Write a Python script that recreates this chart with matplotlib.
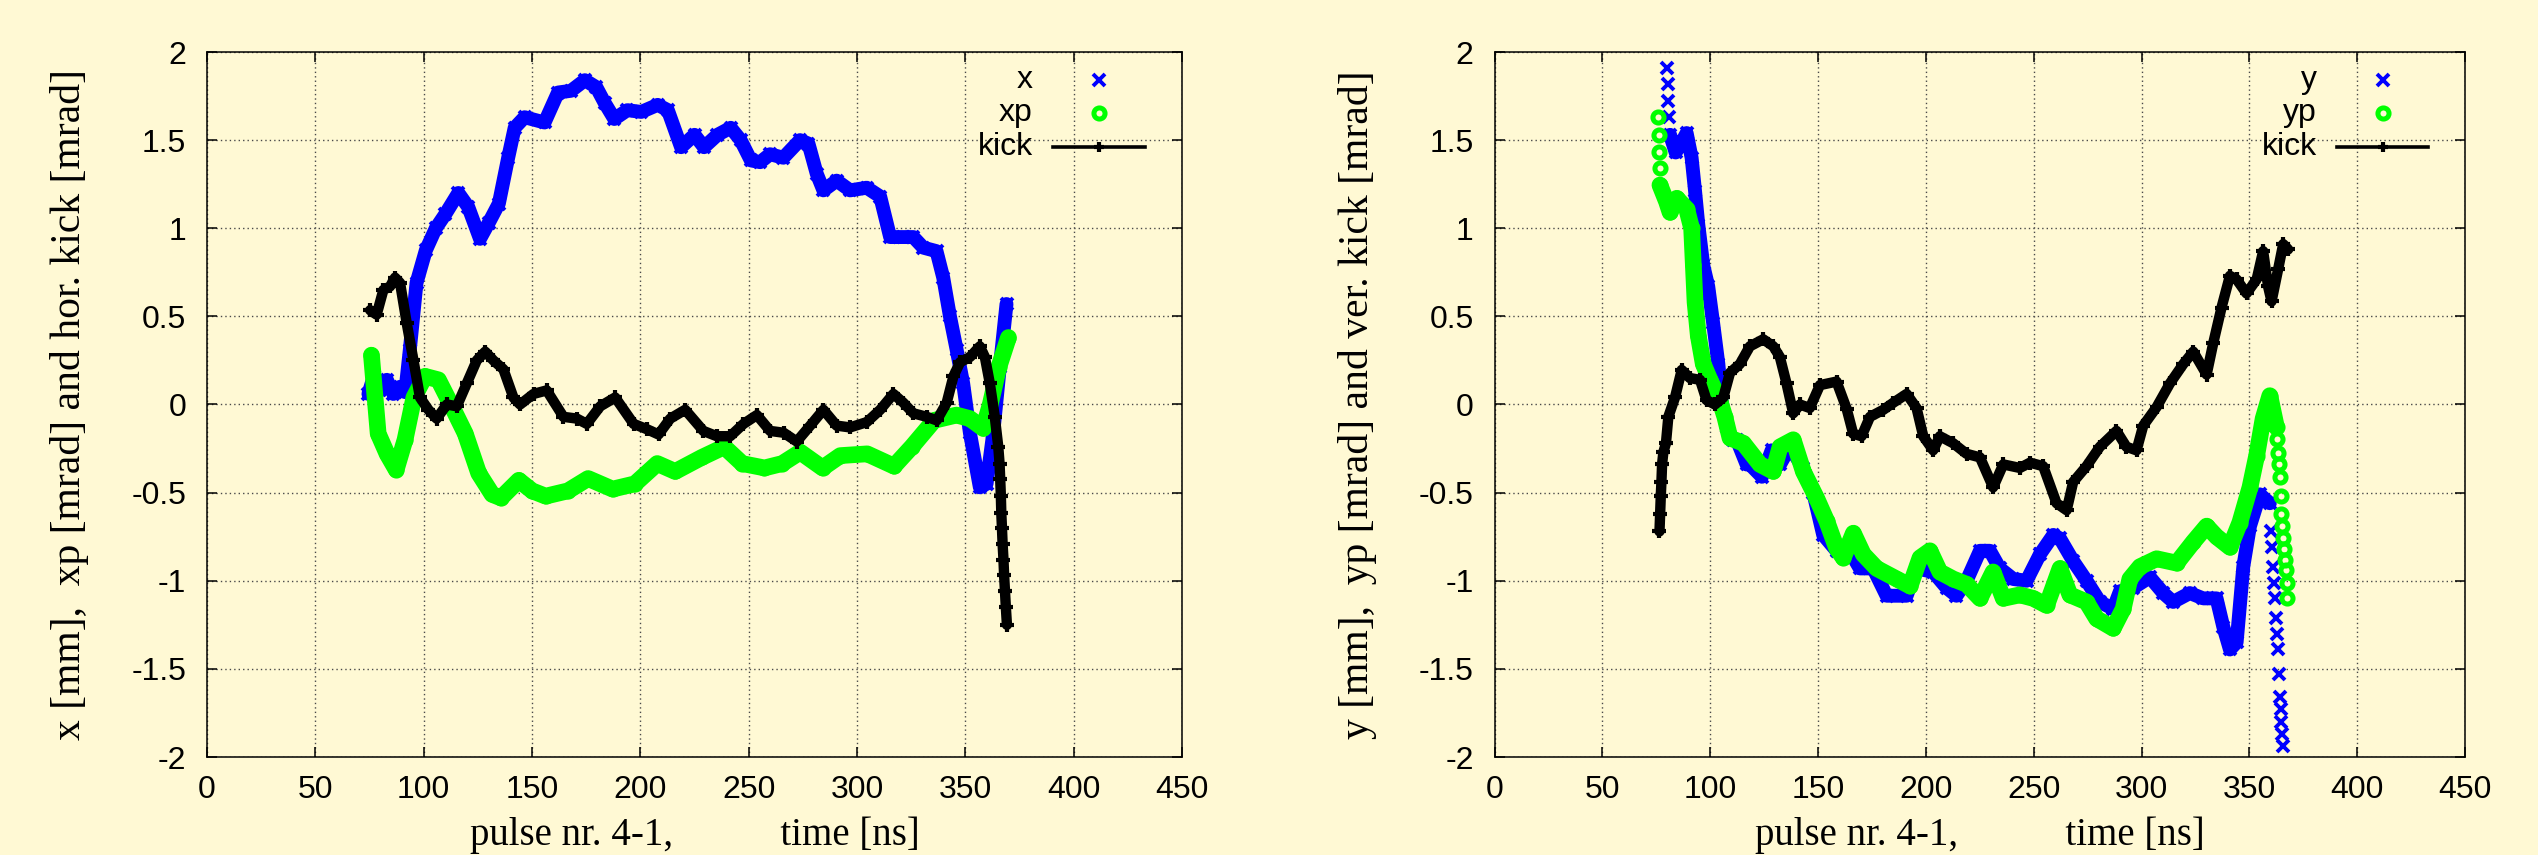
import matplotlib
matplotlib.use('Agg')
import matplotlib.pyplot as plt

# ---------------- data ----------------
# left panel: horizontal plane
x_t = [74.5, 77, 80, 83, 86, 89, 91.5, 93.6, 96.7, 101, 105.6, 110, 116, 120.6, 126, 130, 134.7,
       139, 142, 146.6, 155.8, 162, 168, 174.4, 179.7, 183.6, 188, 194, 200.4, 208, 212.7, 218.8,
       225, 229.4, 235.6, 241.7, 246.3, 251, 255.3, 259.9, 266, 273.7, 277.6, 281.4, 284.5, 290.6,
       296.8, 304.5, 310.7, 315.3, 321.4, 326, 330.6, 336.7, 339.8, 342.9, 346, 349, 352.1, 356.7,
       359.8, 362.9, 365.9, 369]
x_v = [0.06, 0.16, 0.08, 0.14, 0.06, 0.10, 0.07, 0.31, 0.69, 0.875, 1.0, 1.08, 1.2, 1.12, 0.94, 1.03,
       1.14, 1.40, 1.57, 1.63, 1.60, 1.77, 1.78, 1.84, 1.80, 1.71, 1.62, 1.67, 1.66, 1.70, 1.67, 1.46,
       1.53, 1.46, 1.53, 1.57, 1.50, 1.385, 1.375, 1.42, 1.40, 1.50, 1.48, 1.31, 1.215, 1.27, 1.215,
       1.23, 1.18, 0.95, 0.95, 0.95, 0.89, 0.87, 0.72, 0.50, 0.31, 0.12, -0.16, -0.47, -0.45, -0.16,
       0.21, 0.57]

xp_t = [75.9, 79.0, 83.1, 87.3, 91.4, 95.5, 100.6, 106.8, 113.0, 119.2, 125.4, 131.6, 135.7, 143.9,
        150.1, 156.3, 166.6, 175.9, 187.2, 197.5, 207.8, 216.1, 228.4, 238.7, 247.0, 257.3, 265.5,
        273.8, 284.1, 292.3, 304.7, 317.1, 325.3, 335.6, 345.9, 352.1, 358.3, 361.5, 365.4, 369.9]
xp_v = [0.28, -0.165, -0.28, -0.37, -0.20, 0.04, 0.16, 0.14, -0.01, -0.165, -0.39, -0.51, -0.53,
        -0.43, -0.49, -0.52, -0.49, -0.42, -0.48, -0.45, -0.335, -0.38, -0.30, -0.24, -0.335, -0.36,
        -0.335, -0.27, -0.36, -0.29, -0.28, -0.35, -0.24, -0.09, -0.06, -0.08, -0.136, 0.0, 0.21, 0.38]

hkick_t = [75.3, 78.3, 81.4, 84.5, 86.8, 89.1, 92.2, 95.3, 98.3, 102.2, 106.0, 110.7, 115.3, 119.9,
           124.5, 128.4, 132.2, 136.8, 141.4, 144.5, 150.7, 156.8, 164.5, 170.7, 175.3, 181.5, 188.4,
           196.9, 203.0, 208.4, 213.8, 220.7, 229.1, 235.3, 241.5, 247.6, 253.8, 259.9, 266.1, 272.2,
           278.4, 284.5, 290.6, 296.8, 304.5, 310.7, 316.8, 321.4, 326.0, 332.2, 336.8, 341.4, 344.5,
           347.6, 352.2, 356.7, 359.0, 361.3, 363.6, 365.2, 365.8, 366.1, 366.4, 366.6, 366.9, 367.2,
           367.6, 367.9, 368.3, 368.7, 369.2]
hkick_v = [0.535, 0.51, 0.65, 0.67, 0.72, 0.69, 0.46, 0.25, 0.04, -0.03, -0.08, 0.0, -0.01, 0.12,
           0.25, 0.30, 0.25, 0.20, 0.04, 0.0, 0.06, 0.08, -0.07, -0.08, -0.11, -0.01, 0.04, -0.11,
           -0.14, -0.17, -0.08, -0.03, -0.15, -0.18, -0.18, -0.11, -0.06, -0.15, -0.16, -0.21, -0.12,
           -0.03, -0.12, -0.13, -0.10, -0.03, 0.06, 0.01, -0.05, -0.07, -0.09, 0.01, 0.16, 0.24, 0.27,
           0.33, 0.27, 0.12, -0.07, -0.24, -0.335, -0.425, -0.52, -0.615, -0.70, -0.79, -0.88, -0.97,
           -1.06, -1.15, -1.25]

# right panel: vertical plane
y_head_t = [80.2, 80.4, 80.6, 80.8]
y_head_v = [1.91, 1.82, 1.72, 1.63]
y_t = [81.4, 84.0, 86.0, 89.1, 91.4, 93.0, 94.5, 96.8, 99.1, 101.4, 103.8, 105.3, 107.6, 110.7, 112.3,
       116.9, 118.4, 124.0, 128.5, 132.4, 137.0, 143.1, 147.8, 152.4, 158.6, 163.2, 169.4, 175.6,
       181.8, 191.1, 195.7, 203.4, 209.6, 214.2, 218.9, 225.1, 229.7, 234.3, 240.5, 246.7, 252.9,
       259.1, 262.2, 268.4, 274.5, 280.7, 286.9, 290.0, 296.2, 303.9, 310.1, 314.7, 322.4, 328.6,
       334.8, 337.9, 341.0, 344.1, 347.2, 350.3, 354.9, 359.5]
y_v = [1.53, 1.43, 1.47, 1.54, 1.40, 1.21, 1.02, 0.79, 0.67, 0.46, 0.23, 0.02, -0.13, -0.20, -0.20,
       -0.34, -0.34, -0.41, -0.26, -0.34, -0.24, -0.36, -0.50, -0.74, -0.83, -0.80, -0.93, -0.93,
       -1.085, -1.085, -0.93, -0.95, -1.04, -1.085, -1.0, -0.83, -0.83, -0.93, -0.99, -1.0, -0.85,
       -0.74, -0.76, -0.89, -1.0, -1.12, -1.16, -1.06, -1.04, -0.98, -1.07, -1.12, -1.07, -1.1, -1.1,
       -1.26, -1.39, -1.35, -0.92, -0.69, -0.51, -0.56]
y_tail_t = [359.9, 360.4, 360.9, 361.4, 361.9, 362.4, 362.9, 363.4, 363.8, 364.2, 364.5, 364.8,
            365.1, 365.4]
y_tail_v = [-0.72, -0.81, -0.92, -1.01, -1.10, -1.21, -1.30, -1.39, -1.53, -1.66, -1.73, -1.80,
            -1.87, -1.94]

yp_head_t = [76.0, 76.2, 76.4, 76.6]
yp_head_v = [1.63, 1.53, 1.43, 1.34]
yp_t = [76.7, 79.8, 81.4, 84.5, 89.1, 91.4, 92.2, 93.0, 94.5, 96.8, 99.9, 104.5, 106.8, 109.2, 115.4,
        123.1, 129.3, 132.4, 138.5, 143.2, 149.3, 154.0, 158.6, 161.7, 166.4, 171.0, 177.2, 186.5,
        192.7, 197.3, 201.9, 206.5, 212.7, 218.9, 225.1, 231.2, 235.9, 243.6, 249.8, 256.0, 262.2,
        266.8, 274.5, 279.2, 286.9, 291.5, 294.6, 299.3, 307.0, 316.3, 324.0, 330.2, 334.8, 341.0,
        345.6, 350.3, 353.4, 356.4, 359.5, 362.6]
yp_v = [1.245, 1.15, 1.09, 1.17, 1.11, 1.0, 0.79, 0.58, 0.39, 0.23, 0.14, 0.02, -0.07, -0.19, -0.22,
        -0.34, -0.38, -0.24, -0.20, -0.38, -0.53, -0.66, -0.815, -0.87, -0.73, -0.85, -0.93, -0.99,
        -1.03, -0.87, -0.83, -0.95, -0.99, -1.02, -1.10, -0.95, -1.10, -1.08, -1.10, -1.14, -0.93,
        -1.08, -1.12, -1.215, -1.27, -1.16, -0.99, -0.92, -0.875, -0.90, -0.78, -0.69, -0.75, -0.81,
        -0.67, -0.47, -0.29, -0.08, 0.05, -0.13]
yp_tail_t = [362.9, 363.3, 363.7, 364.1, 364.5, 364.9, 365.3, 365.7, 366.1, 366.5, 366.9, 367.3, 367.6]
yp_tail_v = [-0.196, -0.275, -0.34, -0.41, -0.52, -0.62, -0.69, -0.76, -0.82, -0.88, -0.94, -1.01, -1.10]

vkick_t = [76.5, 76.8, 77.1, 77.4, 77.7, 78.3, 79.5, 80.6, 83.7, 86.8, 90.6, 95.3, 98.3, 102.2, 106.1,
           109.2, 113.8, 118.4, 124.6, 129.3, 132.3, 135.4, 138.5, 141.6, 146.2, 150.9, 158.6, 163.3,
           166.3, 170.2, 174.1, 180.3, 184.9, 191.1, 195.7, 198.8, 203.4, 206.5, 212.7, 218.9, 225.1,
           231.2, 235.9, 243.6, 248.3, 254.4, 260.6, 265.3, 268.3, 274.5, 280.7, 288.4, 293.0, 297.7,
           300.8, 307.0, 313.2, 319.4, 324.0, 330.2, 333.3, 337.1, 341.0, 344.1, 348.7, 353.4, 356.4,
           358.7, 360.3, 363.4, 365.7, 368.0]
vkick_v = [-0.72, -0.62, -0.52, -0.44, -0.34, -0.27, -0.22, -0.07, 0.04, 0.196, 0.15, 0.14, 0.025, 0.0,
           0.04, 0.18, 0.23, 0.33, 0.37, 0.33, 0.27, 0.12, -0.05, 0.0, -0.02, 0.11, 0.13, -0.025,
           -0.166, -0.18, -0.07, -0.03, 0.01, 0.06, -0.02, -0.18, -0.26, -0.18, -0.22, -0.28, -0.30,
           -0.47, -0.34, -0.36, -0.33, -0.35, -0.56, -0.60, -0.44, -0.35, -0.24, -0.15, -0.24, -0.26,
           -0.12, -0.015, 0.12, 0.23, 0.30, 0.17, 0.35, 0.55, 0.73, 0.71, 0.63, 0.71, 0.87, 0.67, 0.585,
           0.77, 0.91, 0.88]

x_ticks = [0, 50, 100, 150, 200, 250, 300, 350, 400, 450]
x_tick_labels = ['0', '50', '100', '150', '200', '250', '300', '350', '400', '450']
y_ticks = [-2, -1.5, -1, -0.5, 0, 0.5, 1, 1.5, 2]
y_tick_labels = ['-2', '-1.5', '-1', '-0.5', '0', '0.5', '1', '1.5', '2']

left_labels = ['x', 'xp', 'kick']
right_labels = ['y', 'yp', 'kick']
x_label = 'pulse nr. 4-1,           time [ns]'
left_ylabel = 'x [mm],  xp [mrad] and hor. kick [mrad]'
right_ylabel = 'y [mm],  yp [mrad] and ver. kick [mrad]'

# ---------------- style ----------------
BG = '#fff9d4'
BLUE = '#0000ff'
GREEN = '#00ff00'
BLACK = '#000000'
SANS = 'Liberation Sans'
SERIF = 'Liberation Serif'

plt.rcParams['font.family'] = [SANS, 'DejaVu Sans']

blue_style = dict(color=BLUE, marker='x', ms=9, mew=2.8, mec=BLUE)
green_style = dict(color=GREEN, marker='o', ms=8, mew=3.6, mec=GREEN, mfc='none')
black_style = dict(color=BLACK, marker='+', ms=9.5, mew=3, mec=BLACK)

fig = plt.figure(figsize=(25.38, 8.55), dpi=100, facecolor=BG)
W, H = 2538.0, 855.0
axL = fig.add_axes([207 / W, 98 / H, 975 / W, 705 / H])
axR = fig.add_axes([1494.5 / W, 98 / H, 970.5 / W, 705 / H])


def setup(ax, ylabel, labels):
    ax.set_facecolor(BG)
    ax.set_xlim(0, 450)
    ax.set_ylim(-2, 2)
    ax.set_xticks(x_ticks)
    ax.set_xticklabels(x_tick_labels)
    ax.set_yticks(y_ticks)
    ax.set_yticklabels(y_tick_labels)
    ax.tick_params(axis='both', direction='in', length=7.5, width=1.1, top=True, right=True,
                   labelsize=23, colors='black')
    ax.tick_params(axis='x', pad=13)
    ax.tick_params(axis='y', pad=15)
    for s in ax.spines.values():
        s.set_linewidth(1.1)
        s.set_color('black')
    ax.grid(True, color='#4a4a4a', lw=1.0, linestyle=(0, (1, 2.2)))
    ax.set_axisbelow(True)
    ax.set_xlabel(x_label, fontfamily=SERIF, fontsize=28)
    ax.xaxis.set_label_coords(0.5, -0.084)
    ax.set_ylabel(ylabel, fontfamily=SERIF, fontsize=30)
    ax.yaxis.set_label_coords(-0.121, 0.5)
    # legend drawn gnuplot-style: right-aligned text, sample to its right
    rows = [0.960, 0.913, 0.865]
    tx, mx = 0.847, 0.915
    for lab, yy in zip(labels, rows):
        ax.text(tx, yy, lab, transform=ax.transAxes, ha='right', va='center',
                fontsize=23, fontfamily=SANS, zorder=10)
    ax.plot([mx], [rows[0]], transform=ax.transAxes, ls='none', clip_on=False, zorder=10,
            **blue_style)
    ax.plot([mx], [rows[1]], transform=ax.transAxes, ls='none', clip_on=False, zorder=10,
            **green_style)
    ax.plot([0.868, 0.962], [rows[2], rows[2]], transform=ax.transAxes, color=BLACK, lw=2.6,
            clip_on=False, zorder=10)
    ax.plot([mx], [rows[2]], transform=ax.transAxes, ls='none', clip_on=False, zorder=10,
            color=BLACK, marker='+', ms=7, mew=3)


def band(ax, t, v, style, lw, z):
    ax.plot(t, v, lw=lw, solid_joinstyle='round', solid_capstyle='round', zorder=z, **style)


def dots(ax, t, v, style, z):
    ax.plot(t, v, ls='none', zorder=z, **style)


setup(axL, left_ylabel, left_labels)
setup(axR, right_ylabel, right_labels)

# left panel
band(axL, x_t, x_v, blue_style, 10, 2)
band(axL, xp_t, xp_v, green_style, 12, 3)
band(axL, hkick_t, hkick_v, black_style, 7.5, 4)

# right panel
dots(axR, y_head_t, y_head_v, blue_style, 2)
band(axR, y_t, y_v, blue_style, 10, 2)
dots(axR, y_tail_t, y_tail_v, blue_style, 2)
dots(axR, yp_head_t, yp_head_v, green_style, 3)
band(axR, yp_t, yp_v, green_style, 12, 3)
dots(axR, yp_tail_t, yp_tail_v, green_style, 3)
band(axR, vkick_t, vkick_v, black_style, 7.5, 4)

fig.savefig('out.png', dpi=100, facecolor=BG)
